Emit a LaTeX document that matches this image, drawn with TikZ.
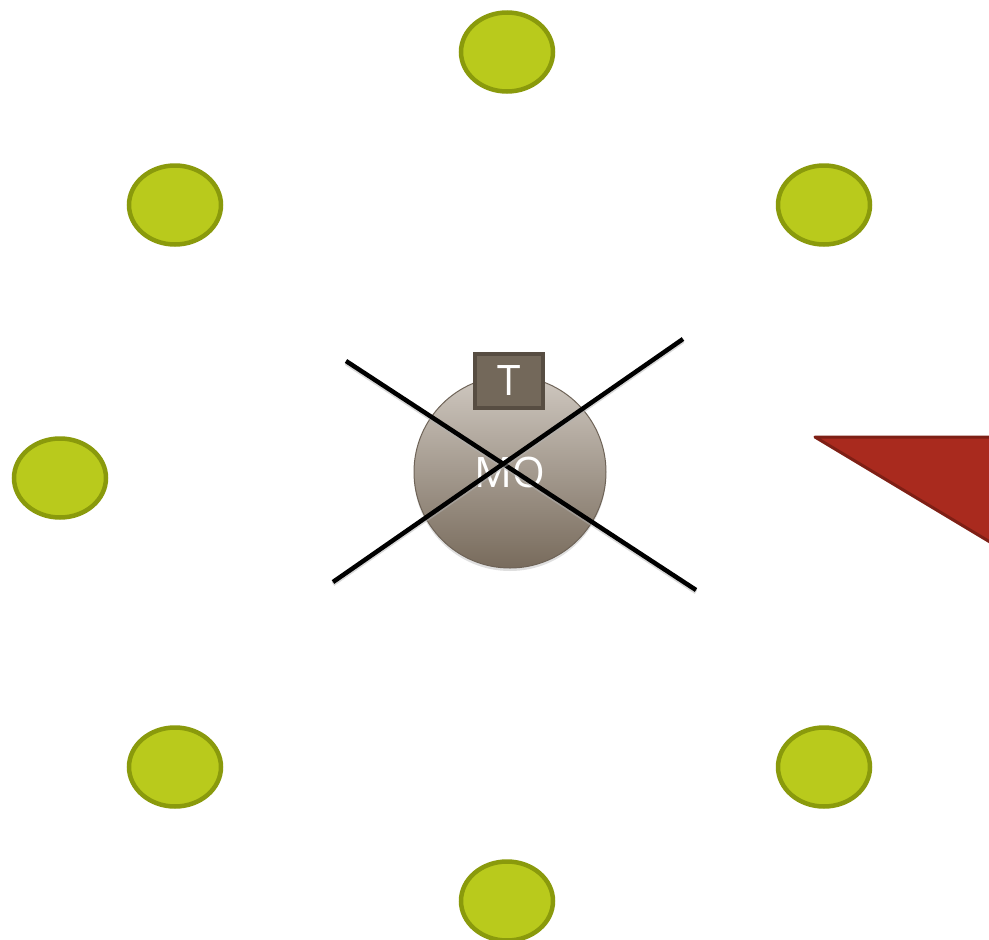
\documentclass[tikz,border=0pt]{standalone}
\usepackage{fontspec}
\setmainfont{Open Sans}
\usetikzlibrary{shadows, shapes.geometric}

\definecolor{leaf}{HTML}{B9CA1C}
\definecolor{leafdark}{HTML}{8A9A0C}
\definecolor{stonetop}{HTML}{CFC8C0}
\definecolor{stonebot}{HTML}{786B5C}
\definecolor{stoneedge}{HTML}{6E6357}
\definecolor{tagfill}{HTML}{73685A}
\definecolor{tagedge}{HTML}{574D42}
\definecolor{brick}{HTML}{A92A1E}
\definecolor{brickdark}{HTML}{7E1F15}

\begin{document}
\begin{tikzpicture}[
x=1pt, y=-1pt,
dot/.style={ellipse, fill=leaf, draw=leafdark, line width=4.5pt, minimum width=92pt, minimum height=79pt, inner sep=0pt},
hub/.style={circle, top color=stonetop, bottom color=stonebot, draw=stoneedge, line width=1pt, minimum size=192pt, inner sep=0pt, text=white, font=\fontsize{42}{42}\selectfont, drop shadow={opacity=0.25, shadow xshift=0pt, shadow yshift=-3pt}},
tag/.style={rectangle, fill=tagfill, draw=tagedge, line width=4pt, minimum width=68pt, minimum height=54pt, inner sep=0pt, text=white, font=\fontsize{42}{42}\selectfont},
cross/.style={black, line width=4.5pt, preaction={draw=black!30, line width=4.5pt, opacity=0.5, transform canvas={yshift=-2pt}}}
]
\useasboundingbox (0,0) rectangle (989,940);

% satellites
\node[dot] (top) at (507,52) {};
\node[dot] (topleft) at (175,205) {};
\node[dot] (topright) at (824,205) {};
\node[dot] (left) at (60,478) {};
\node[dot] (botleft) at (175,767) {};
\node[dot] (botright) at (824,767) {};
\node[dot] (bottom) at (507,901) {};

% central unit
\node[hub] (mo) at (510,472) {MO};
\node[tag] (t) at (509,381) {T};

% crossed out
\coordinate (c1a) at (346,361);
\coordinate (c1b) at (696,590);
\coordinate (c2a) at (333,582);
\coordinate (c2b) at (683,339);
\draw[cross] (c1a) -- (c1b);
\draw[cross] (c2a) -- (c2b);

% red wedge
\fill[brick, draw=brickdark, line width=3pt, line join=round] (815,437) -- (1020,437) -- (1020,560) -- cycle;
\end{tikzpicture}
\end{document}
